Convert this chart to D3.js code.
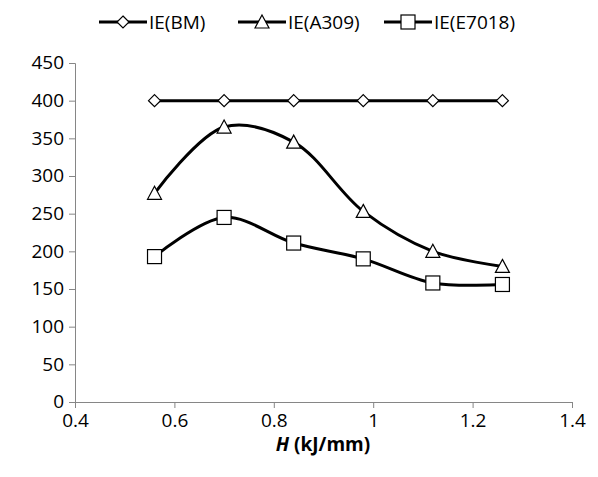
<!DOCTYPE html>
<html><head><meta charset="utf-8">
<script src="https://cdn.jsdelivr.net/npm/d3@7"></script>
<style>body{margin:0;background:#fff}text{font-family:"Open Sans","Liberation Sans",sans-serif}</style>
</head><body><svg id="c" width="598" height="477"></svg>
<script>
const heatInput = [0.56, 0.70, 0.84, 0.98, 1.12, 1.26];
const ieBM = [400, 400, 400, 400, 400, 400];
const ieA309 = [277, 365, 345, 253, 200, 180];
const ieE7018 = [193, 245, 211, 190, 158, 156];
const xTicks = [0.4, 0.6, 0.8, 1, 1.2, 1.4];
const yTicks = [0, 50, 100, 150, 200, 250, 300, 350, 400, 450];
const series = [
  {name: "IE(BM)", values: ieBM, marker: "diamond", smooth: false},
  {name: "IE(A309)", values: ieA309, marker: "triangle", smooth: true},
  {name: "IE(E7018)", values: ieE7018, marker: "square", smooth: true}
];

const svg = d3.select("#c");
const x = d3.scaleLinear().domain([0.4, 1.4]).range([75, 572]);
const y = d3.scaleLinear().domain([0, 450]).range([402, 63]);

svg.append("g").attr("transform", "translate(0,402)")
  .call(d3.axisBottom(x).tickValues(xTicks).tickSize(6).tickPadding(6).tickFormat(d3.format("")))
  .call(g => g.selectAll("text").attr("font-size", 19).attr("fill", "#000").attr("dy", "0.7em"));
svg.append("g").attr("transform", "translate(75,0)")
  .call(d3.axisLeft(y).tickValues(yTicks).tickSize(6).tickPadding(5))
  .call(g => g.selectAll("text").attr("font-size", 19).attr("fill", "#000").attr("dy", "0.3em"));
svg.selectAll(".domain, .tick line").attr("stroke", "#868686");

function marker(sel, type) {
  if (type === "diamond") sel.append("path").attr("d", "M0,-6L6,0L0,6L-6,0Z");
  else if (type === "triangle") sel.append("path").attr("d", "M0,-7L7,6L-7,6Z");
  else sel.append("rect").attr("x", -7).attr("y", -7).attr("width", 14).attr("height", 14);
  sel.selectAll("path,rect").attr("fill", "#fff").attr("stroke", "#000").attr("stroke-width", 1.2);
}

series.forEach(s => {
  const line = d3.line().x((d, i) => x(heatInput[i])).y(d => y(d))
    .curve(s.smooth ? d3.curveCatmullRom.alpha(0.5) : d3.curveLinear);
  svg.append("path").datum(s.values).attr("d", line)
    .attr("fill", "none").attr("stroke", "#000").attr("stroke-width", 3);
  s.values.forEach((v, i) => {
    marker(svg.append("g").attr("transform", `translate(${x(heatInput[i])},${y(v)})`), s.marker);
  });
});

const legX = [147, 286, 432];
series.forEach((s, i) => {
  const g = svg.append("g").attr("transform", `translate(${legX[i] - 48},22)`);
  g.append("line").attr("x1", 0).attr("x2", 48).attr("stroke", "#000").attr("stroke-width", 3);
  marker(g.append("g").attr("transform", "translate(24,0)"), s.marker);
  g.append("text").attr("x", 50).attr("y", 7).attr("font-size", 19).text(s.name);
});

svg.append("text").attr("x", 323).attr("y", 451).attr("text-anchor", "middle")
  .attr("font-size", 19).attr("font-weight", "bold")
  .html('<tspan font-style="italic">H</tspan> (kJ/mm)');
</script></body></html>
